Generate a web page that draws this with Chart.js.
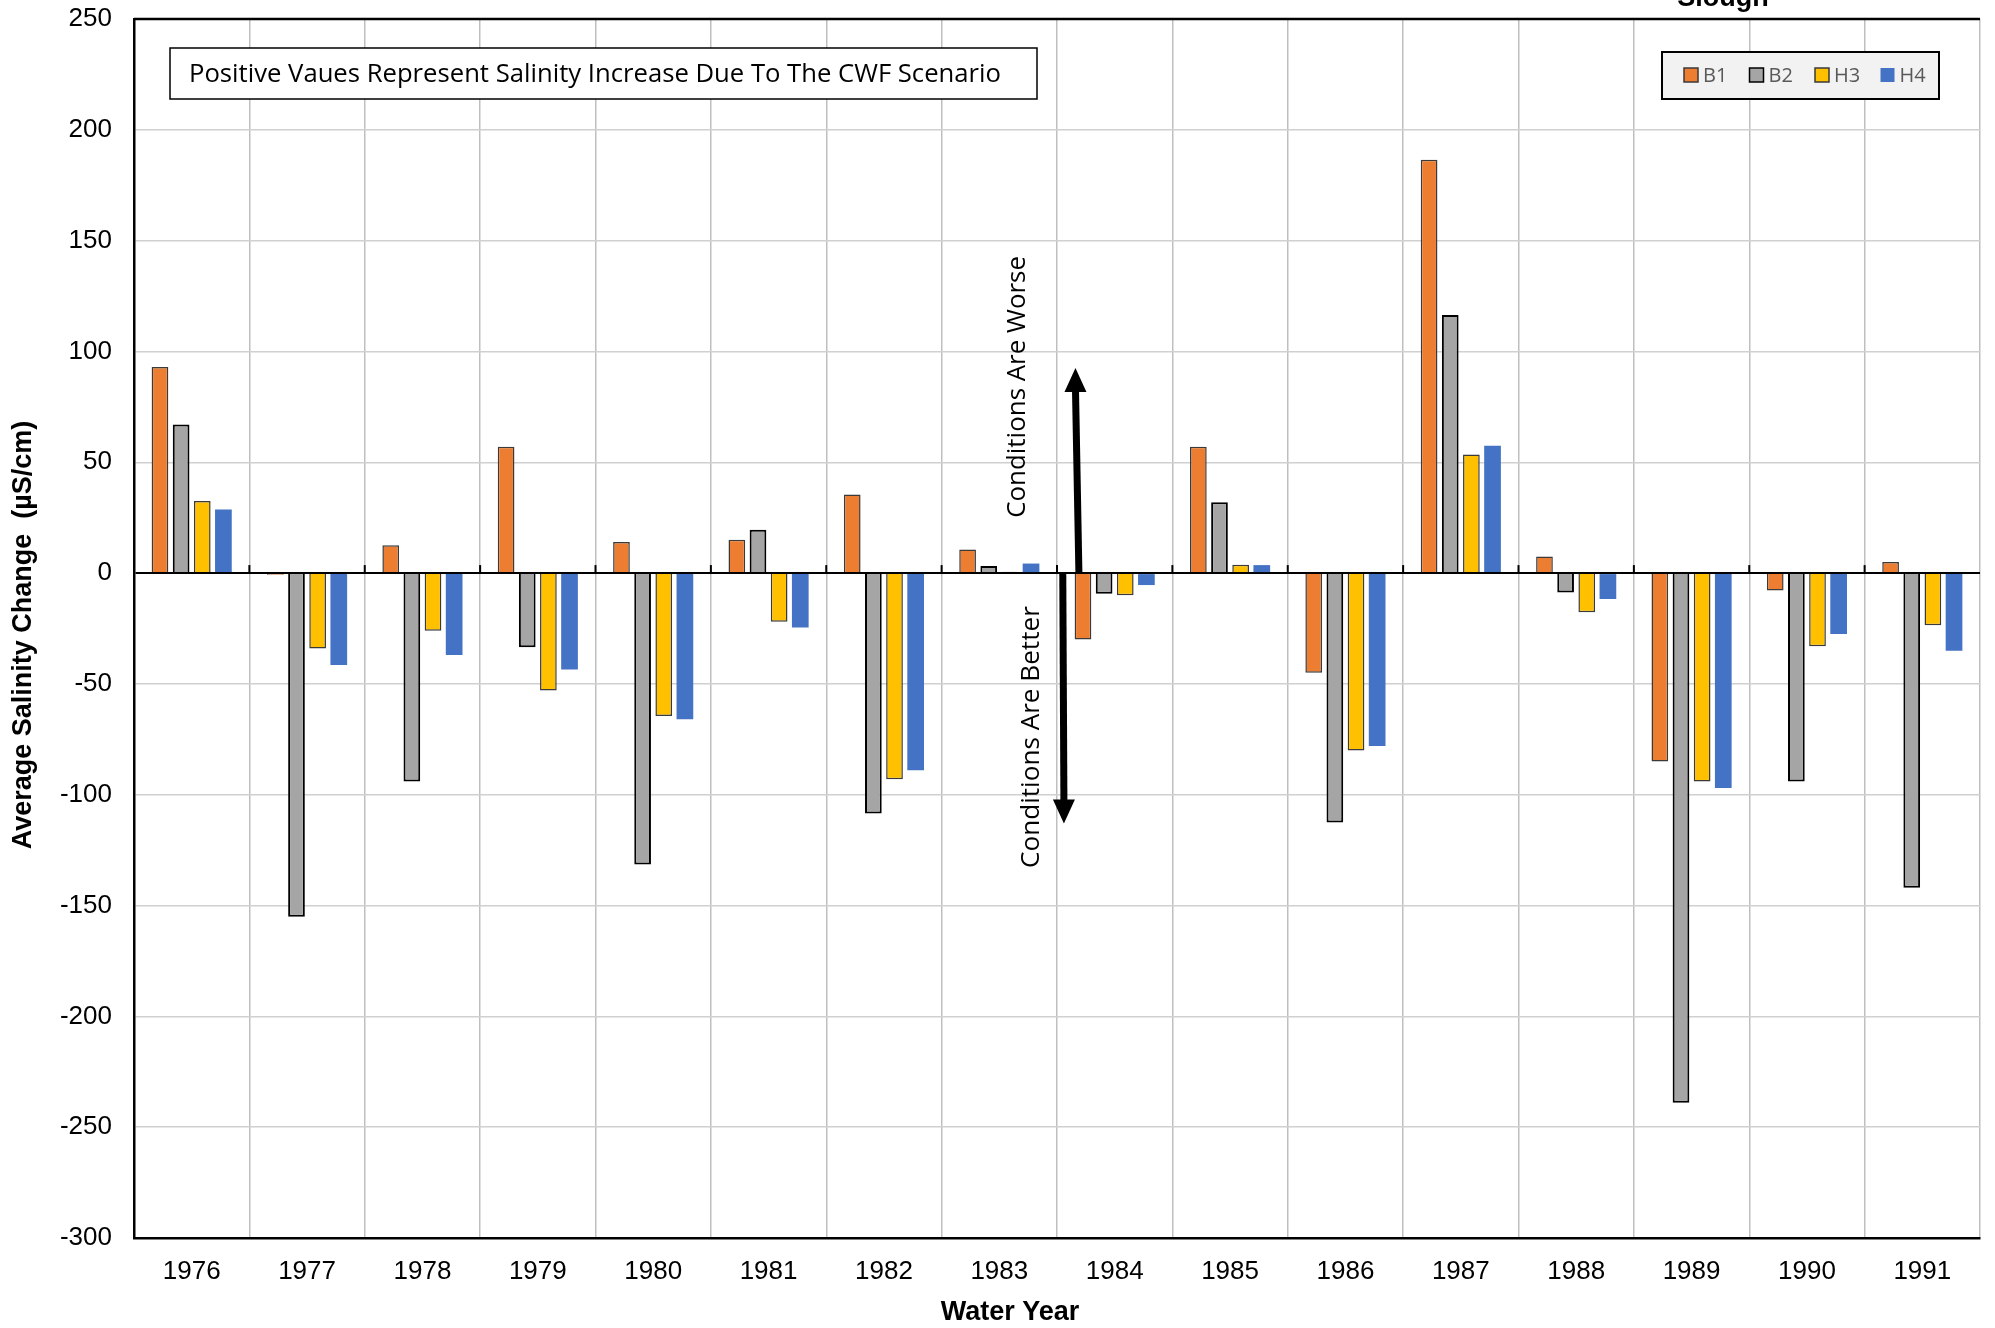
<!DOCTYPE html>
<html>
<head>
<meta charset="utf-8">
<script src="https://cdn.jsdelivr.net/npm/chart.js@4/dist/chart.umd.min.js"></script>
<style>
  html, body { margin: 0; padding: 0; background: #fff; }
  #wrap { width: 1995px; height: 1328px; }
</style>
</head>
<body>
<div id="wrap"><canvas id="myChart" width="1995" height="1328"></canvas></div>
<script>
const years = ['1976', '1977', '1978', '1979', '1980', '1981', '1982', '1983',
               '1984', '1985', '1986', '1987', '1988', '1989', '1990', '1991'];
const b1 = [93, -0.8, 12.6, 57, 14, 15, 35.5, 10.6, -30, 57, -45, 186.5, 7.5, -85, -7.9, 5];
const b2 = [67, -155, -94, -33.5, -131.5, 19.5, -108.5, 3.2, -9.3, 32, -112.5, 116.5, -8.8, -239, -94, -142];
const h3 = [32.5, -34, -26, -53, -64.5, -22, -93, 0.6, -10, 3.8, -80, 53.5, -17.7, -94, -33, -23.5];
const h4 = [28.7, -41.5, -37, -43.5, -66, -24.5, -89, 4.3, -5.4, 3.6, -78, 57.5, -11.7, -97, -27.5, -35];
const yTicksMin = -300;
const yTicksMax = 250;
const yStep = 50;

const noteText = 'Positive Vaues Represent Salinity Increase Due To The CWF Scenario';
const xTitle = 'Water Year';
const yTitle = 'Average Salinity Change  (µS/cm)';

// helper: fit a string to a given pixel width
function fitFont(ctx, text, width, weight, family) {
    let size = 30;
    ctx.font = weight + ' ' + size + 'px ' + family;
    size = size * width / ctx.measureText(text).width;
    return weight + ' ' + size.toFixed(2) + 'px ' + family;
}

const extras = {
    id: 'extras',
    afterDraw(chart) {
        const ctx = chart.ctx;
        const area = chart.chartArea;
        const x = chart.scales.x;
        const y = chart.scales.y;
        const catW = (area.right - area.left) / years.length;
        const xAt = (i) => x.getPixelForValue(0) + i * catW;
        ctx.save();

        // top border of plot
        ctx.strokeStyle = '#000';
        ctx.lineWidth = 2.5;
        ctx.beginPath();
        ctx.moveTo(area.left, area.top);
        ctx.lineTo(area.right, area.top);
        ctx.stroke();

        // little tick marks on the zero line
        const y0 = y.getPixelForValue(0);
        ctx.lineWidth = 2;
        for (let i = 1; i < years.length; i++) {
            const px = area.left + i * catW;
            ctx.beginPath();
            ctx.moveTo(px, y0);
            ctx.lineTo(px, y0 - 8);
            ctx.stroke();
        }

        // axis titles (the x one sits left of centre in the original)
        ctx.fillStyle = '#000';
        ctx.font = 'bold 27px "Liberation Sans", Arial';
        ctx.textAlign = 'center';
        ctx.textBaseline = 'middle';
        ctx.fillText(xTitle, 1010, 1313);
        ctx.save();
        ctx.translate(24, 635);
        ctx.rotate(-Math.PI / 2);
        ctx.fillText(yTitle, 0, 0);
        ctx.restore();

        // note box
        const bx = area.left + 36, by = area.top + 29, bw = 867, bh = 51;
        ctx.fillStyle = '#fff';
        ctx.fillRect(bx, by, bw, bh);
        ctx.strokeStyle = '#000';
        ctx.lineWidth = 1.5;
        ctx.strokeRect(bx, by, bw, bh);
        ctx.fillStyle = '#000';
        ctx.font = fitFont(ctx, noteText, 812, 'normal', '"Open Sans"');
        ctx.textBaseline = 'middle';
        ctx.textAlign = 'left';
        ctx.fillText(noteText, bx + 19, by + bh / 2 + 1);

        // legend box
        const lx = 1662, ly = 52, lw = 277, lh = 47;
        ctx.fillStyle = '#F2F2F2';
        ctx.fillRect(lx, ly, lw, lh);
        ctx.strokeStyle = '#000';
        ctx.lineWidth = 2;
        ctx.strokeRect(lx, ly, lw, lh);
        ctx.font = 'normal 20px "Open Sans"';
        chart.data.datasets.forEach((d, i) => {
            const sx = lx + 22 + i * 65.5;
            const sy = ly + 16;
            ctx.fillStyle = d.backgroundColor;
            ctx.fillRect(sx, sy, 14, 14);
            if (d.borderWidth) {
                ctx.strokeStyle = d.borderColor;
                ctx.lineWidth = 1.5;
                ctx.strokeRect(sx, sy, 14, 14);
            }
            ctx.fillStyle = '#595959';
            ctx.fillText(d.label, sx + 19, sy + 8);
        });

        // arrows
        function arrow(idx, from, to) {
            const px1 = xAt(idx), py1 = y.getPixelForValue(from);
            const px2 = xAt(idx + (to > 0 ? -0.03 : 0.01)), py2 = y.getPixelForValue(to);
            const dir = py2 < py1 ? -1 : 1;
            ctx.strokeStyle = '#000';
            ctx.fillStyle = '#000';
            ctx.lineWidth = 7;
            ctx.beginPath();
            ctx.moveTo(px1, py1);
            ctx.lineTo(px2, py2 - dir * 20);
            ctx.stroke();
            ctx.beginPath();
            ctx.moveTo(px2, py2);
            ctx.lineTo(px2 - 11, py2 - dir * 24);
            ctx.lineTo(px2 + 11, py2 - dir * 24);
            ctx.closePath();
            ctx.fill();
        }
        arrow(7.69, 0, 92.5);
        arrow(7.55, 0, -113);

        // rotated notes
        function vText(text, idx, val) {
            ctx.save();
            ctx.translate(xAt(idx), y.getPixelForValue(val));
            ctx.rotate(-Math.PI / 2);
            ctx.font = fitFont(ctx, text, 262, 'normal', '"Open Sans"');
            ctx.fillStyle = '#000';
            ctx.textAlign = 'center';
            ctx.textBaseline = 'middle';
            ctx.fillText(text, 0, 0);
            ctx.restore();
        }
        vText('Conditions Are Worse', 7.16, 84);
        vText('Conditions Are Better', 7.28, -74);

        // title, mostly cut off above the canvas
        ctx.fillStyle = '#000';
        ctx.font = 'bold 27px "Liberation Sans", Arial';
        ctx.textAlign = 'center';
        ctx.textBaseline = 'alphabetic';
        ctx.fillText('Slough', 1723, 6);

        ctx.restore();
    }
};

const ctx = document.getElementById('myChart').getContext('2d');
new Chart(ctx, {
    type: 'bar',
    data: {
        labels: years,
        datasets: [
            { label: 'B1', data: b1, backgroundColor: '#ED7D31', borderColor: '#3a3a3a', borderWidth: 1.5 },
            { label: 'B2', data: b2, backgroundColor: '#A5A5A5', borderColor: '#000', borderWidth: 2 },
            { label: 'H3', data: h3, backgroundColor: '#FFC000', borderColor: '#3a3a3a', borderWidth: 1.5 },
            { label: 'H4', data: h4, backgroundColor: '#4472C4', borderWidth: 0 }
        ]
    },
    options: {
        responsive: false,
        animation: false,
        categoryPercentage: 0.733,
        barPercentage: 0.79,
        layout: { padding: { left: 0, right: 15, top: 19, bottom: 0 } },
        plugins: {
            legend: { display: false },
            tooltip: { enabled: false }
        },
        scales: {
            x: {
                grid: {
                    offset: true,
                    color: '#BFBFBF',
                    lineWidth: 1.5,
                    drawTicks: false
                },
                border: { color: '#000', width: 2.5 },
                ticks: {
                    color: '#000',
                    font: { family: '"Liberation Sans", Arial', size: 26 },
                    padding: 18
                },
                afterFit: (scale) => {
                    scale.height = 90;
                    scale.paddingLeft = 0;
                    scale.paddingRight = 0;
                }
            },
            y: {
                min: yTicksMin,
                max: yTicksMax,
                grid: {
                    color: (c) => c.tick && c.tick.value === 0 ? '#000' : '#D0D0D0',
                    lineWidth: (c) => c.tick && c.tick.value === 0 ? 2 : 1.5,
                    drawTicks: false
                },
                border: { color: '#000', width: 2.5 },
                ticks: {
                    stepSize: yStep,
                    color: '#000',
                    font: { family: '"Liberation Sans", Arial', size: 26 },
                    padding: 22,
                    callback: (v) => String(v)
                },
                afterFit: (scale) => {
                    scale.width = 134;
                    scale.paddingTop = 0;
                    scale.paddingBottom = 0;
                }
            }
        }
    },
    plugins: [extras]
});
</script>
</body>
</html>
